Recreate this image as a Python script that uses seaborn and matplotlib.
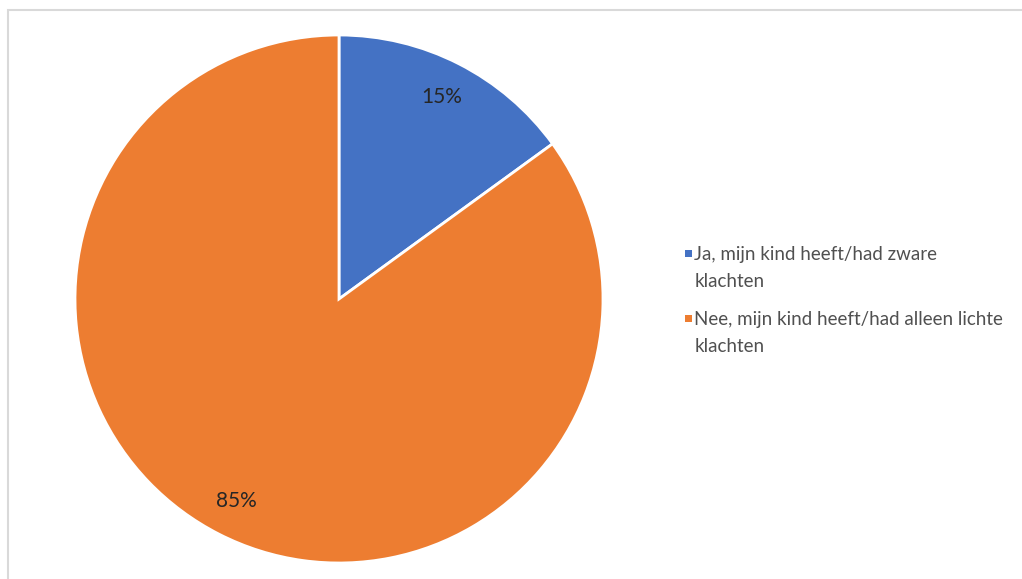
import matplotlib
matplotlib.use("Agg")
import matplotlib.pyplot as plt
import seaborn as sns
from matplotlib.patches import Rectangle, Patch
from matplotlib.legend_handler import HandlerPatch

# data
labels = [
    "Ja, mijn kind heeft/had zware\nklachten",
    "Nee, mijn kind heeft/had alleen lichte\nklachten",
]
shares = [15, 85]
colors = ["#4472C4", "#ED7D31"]

sns.set_theme(style="white")
plt.rcParams["font.family"] = ["Lato", "DejaVu Sans"]

W, H = 1022, 579
fig = plt.figure(figsize=(W / 100, H / 100), dpi=100)
fig.patch.set_facecolor("white")

# light chart frame (cropped at right/bottom)
fig.patches.append(Rectangle((8 / W, -0.1), 1.2, (H - 10) / H + 0.1,
                             transform=fig.transFigure, fill=False,
                             edgecolor="#d9d9d9", linewidth=1.5))

cx, cy, r = 339, 299, 264
ax = fig.add_axes([(cx - r) / W, (H - cy - r) / H, 2 * r / W, 2 * r / H])
wedges, texts, autotexts = ax.pie(
    shares, colors=colors, startangle=90, counterclock=False,
    autopct="%d%%", pctdistance=0.86,
    wedgeprops=dict(edgecolor="white", linewidth=2),
    textprops=dict(color="#262626", fontsize=15),
)
ax.set_xlim(-1, 1)
ax.set_ylim(-1, 1)
ax.set_aspect("equal")
ax.axis("off")


# square legend marker sitting next to the first line of a wrapped label
def top_square(legend, orig_handle, xdescent, ydescent, width, height, fontsize):
    s = 5.2
    return Rectangle((-xdescent, -ydescent + height / 2 - s / 2 + 11), s, s)


handles = [Patch(facecolor=c, edgecolor="none") for c in colors]
leg = fig.legend(handles, labels, loc="upper left",
                 bbox_to_anchor=(668 / W, 1 - 229 / H), frameon=False,
                 fontsize=13.5, labelcolor="#505050", handlelength=0.4,
                 handleheight=0.4, handletextpad=0.1, labelspacing=1.1,
                 handler_map={Patch: HandlerPatch(patch_func=top_square)})
for t in leg.get_texts():
    t.set_linespacing(1.75)

fig.savefig("out.png", dpi=100)
